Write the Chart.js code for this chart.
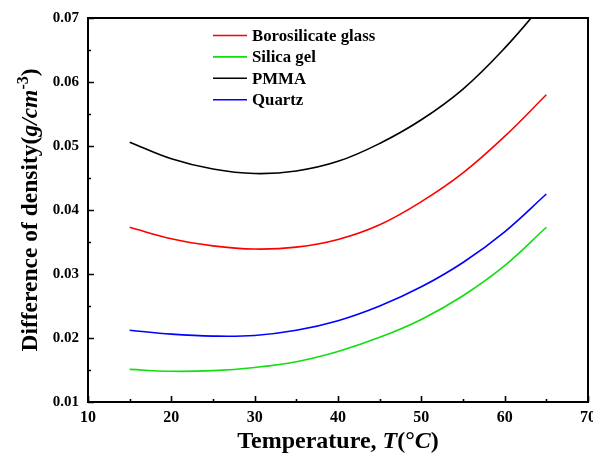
<!DOCTYPE html>
<html>
<head>
<meta charset="utf-8">
<script src="https://cdn.jsdelivr.net/npm/chart.js@4.4.1/dist/chart.umd.min.js"></script>
<style>
  html, body { margin: 0; padding: 0; background: #fff; overflow: hidden; width: 593px; height: 459px; }
  #wrap { width: 605px; height: 459px; }
</style>
</head>
<body>
<div id="wrap"><canvas id="chart" width="605" height="459"></canvas></div>
<script>
// Density difference (g/cm^-3) versus temperature (°C)
const temperatures = [15, 20, 25, 30, 35, 40, 45, 50, 55, 60, 65];
const borosilicateGlass = [0.0373, 0.0355, 0.0344, 0.0339, 0.0342, 0.0354, 0.0377, 0.0413, 0.0458, 0.0515, 0.0580];
const silicaGel = [0.0151, 0.0148, 0.0149, 0.0154, 0.0163, 0.0179, 0.0201, 0.0229, 0.0266, 0.0313, 0.0373];
const pmma = [0.0506, 0.0480, 0.0464, 0.0457, 0.0461, 0.0476, 0.0504, 0.0541, 0.0589, 0.0653, 0.0728];
const quartz = [0.0212, 0.0206, 0.0203, 0.0204, 0.0212, 0.0227, 0.0250, 0.0280, 0.0318, 0.0366, 0.0425];

const seriesNames = ['Borosilicate glass', 'Silica gel', 'PMMA', 'Quartz'];
const seriesColors = ['#ff0000', '#11dd11', '#000000', '#0000ff'];

const xTickValues = [10, 20, 30, 40, 50, 60, 70];
const xMinorTickValues = [15, 25, 35, 45, 55, 65];
const yTickValues = [0.01, 0.02, 0.03, 0.04, 0.05, 0.06, 0.07];
const yMinorTickValues = [0.015, 0.025, 0.035, 0.045, 0.055, 0.065];

const SERIF = "'Liberation Serif', 'Times New Roman', serif";

const toPoints = (values) => temperatures.map((t, i) => ({ x: t, y: values[i] }));
const seriesValues = [borosilicateGlass, silicaGel, pmma, quartz];

// Frame, inward tick marks, legend and axis titles with mixed styles
const decorations = {
  id: 'decorations',
  afterDraw(chart) {
    const { ctx, chartArea: a, scales: { x, y } } = chart;
    ctx.save();
    ctx.strokeStyle = '#000';
    ctx.lineWidth = 2;
    ctx.strokeRect(a.left, a.top, a.right - a.left, a.bottom - a.top);

    ctx.lineWidth = 1.6;
    ctx.beginPath();
    const xTick = (v, len) => {
      const px = Math.round(x.getPixelForValue(v)) + 0.5;
      ctx.moveTo(px, a.bottom); ctx.lineTo(px, a.bottom - len);
    };
    const yTick = (v, len) => {
      const py = Math.round(y.getPixelForValue(v)) + 0.5;
      ctx.moveTo(a.left, py); ctx.lineTo(a.left + len, py);
    };
    xTickValues.forEach(v => xTick(v, 6));
    xMinorTickValues.forEach(v => xTick(v, 3));
    yTickValues.forEach(v => yTick(v, 6));
    yMinorTickValues.forEach(v => yTick(v, 3));
    ctx.stroke();

    // legend
    const lx = a.left + 125, ly = a.top + 17.5, rowGap = 21.4;
    ctx.font = `bold 16.8px ${SERIF}`;
    ctx.textBaseline = 'alphabetic';
    ctx.textAlign = 'left';
    chart.data.datasets.forEach((ds, i) => {
      const yy = ly + i * rowGap;
      ctx.strokeStyle = ds.borderColor;
      ctx.lineWidth = 1.6;
      ctx.beginPath();
      ctx.moveTo(lx, yy); ctx.lineTo(lx + 34, yy);
      ctx.stroke();
      ctx.fillStyle = '#000';
      ctx.fillText(ds.label, lx + 39, yy + 5.5);
    });

    // x axis title
    const drawRuns = (runs, cx, baseY) => {
      let total = 0;
      runs.forEach(r => { ctx.font = r.font; total += ctx.measureText(r.text).width; });
      let cur = cx - total / 2;
      runs.forEach(r => {
        ctx.font = r.font;
        ctx.fillText(r.text, cur, baseY - (r.raise || 0));
        cur += ctx.measureText(r.text).width;
      });
    };
    ctx.fillStyle = '#000';
    const xFont = `bold 24px ${SERIF}`, xIt = `italic bold 24px ${SERIF}`;
    drawRuns([
      { text: 'Temperature, ', font: xFont },
      { text: 'T', font: xIt },
      { text: '(°', font: xFont },
      { text: 'C', font: xIt },
      { text: ')', font: xFont }
    ], (a.left + a.right) / 2, 448);

    // y axis title (rotated)
    ctx.save();
    ctx.translate(37, (a.top + a.bottom) / 2);
    ctx.rotate(-Math.PI / 2);
    const yFont = `bold 23.5px ${SERIF}`, yIt = `italic bold 23.5px ${SERIF}`;
    drawRuns([
      { text: 'Difference of density(', font: yFont },
      { text: 'g/cm', font: yIt },
      { text: '-3', font: `bold 16px ${SERIF}`, raise: 9 },
      { text: ')', font: yFont }
    ], 0, 0);
    ctx.restore();

    ctx.restore();
  }
};

new Chart(document.getElementById('chart'), {
  type: 'line',
  data: {
    datasets: seriesNames.map((name, i) => ({
      label: name,
      data: toPoints(seriesValues[i]),
      borderColor: seriesColors[i],
      backgroundColor: seriesColors[i],
      borderWidth: 1.6,
      pointRadius: 0,
      tension: 0.4,
      fill: false
    }))
  },
  options: {
    responsive: false,
    animation: false,
    devicePixelRatio: 1,
    layout: { padding: { top: 16, right: 17, bottom: 0, left: 0 } },
    plugins: { legend: { display: false }, tooltip: { enabled: false } },
    scales: {
      x: {
        type: 'linear',
        min: 10,
        max: 70,
        afterBuildTicks: (s) => { s.ticks = xTickValues.map(v => ({ value: v })); },
        afterFit: (s) => { s.height = 57; },
        ticks: {
          autoSkip: false,
          maxRotation: 0,
          padding: 6,
          color: '#000',
          font: { family: SERIF, size: 16, weight: 'bold' },
          callback: (v) => String(v)
        },
        grid: { display: false, drawTicks: false },
        border: { display: false }
      },
      y: {
        min: 0.01,
        max: 0.07,
        afterBuildTicks: (s) => { s.ticks = yTickValues.map(v => ({ value: v })); },
        afterFit: (s) => { s.width = 88; },
        ticks: {
          padding: 9,
          color: '#000',
          font: { family: SERIF, size: 15, weight: 'bold' },
          callback: (v) => Number(v).toFixed(2)
        },
        grid: { display: false, drawTicks: false },
        border: { display: false }
      }
    }
  },
  plugins: [decorations]
});
</script>
</body>
</html>
